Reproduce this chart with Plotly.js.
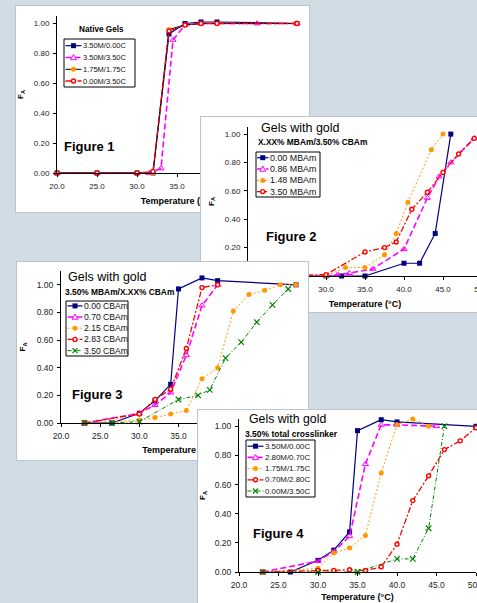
<!DOCTYPE html>
<html><head><meta charset="utf-8">
<script src="https://cdn.plot.ly/plotly-3.0.1.min.js"></script>
<style>
html,body{margin:0;padding:0;width:477px;height:603px;overflow:hidden;background:#d2dce4;}
.panel{position:absolute;background:#fff;box-shadow:0 0 0 1px #bcc4cb;}
</style></head><body>
<div id="p1" class="panel" style="left:16px;top:6px;width:293px;height:206px;z-index:1"></div>
<div id="p2" class="panel" style="left:201px;top:117px;width:300px;height:195px;z-index:2"></div>
<div id="p3" class="panel" style="left:17px;top:262px;width:291px;height:198px;z-index:3"></div>
<div id="p4" class="panel" style="left:198px;top:410px;width:300px;height:210px;z-index:4"></div>
<script>
// ---------- DATA ----------
const xTicks = [20, 25, 30, 35, 40, 45, 50];
const yTicks = [0, 0.2, 0.4, 0.6, 0.8, 1.0];

// Figure 1 — Native Gels
const f1Names = ['3.50M/0.00C', '3.50M/3.50C', '1.75M/1.75C', '0.00M/3.50C'];
const f1T_a = [20, 25, 30, 32, 34, 36, 38, 40, 50];
const f1FA_a = [0, 0, 0, 0, 0.93, 1.00, 1.01, 1.01, 1.00];
const f1T_b = [20, 25, 30, 31.5, 33, 34.5, 36, 38, 45, 50];
const f1FA_b = [0, 0, 0, 0, 0.03, 0.89, 0.99, 1.00, 1.00, 1.00];
const f1T_c = [20, 25, 30, 32, 34, 36, 38, 40, 50];
const f1FA_c = [0, 0, 0, 0, 0.96, 0.99, 1.00, 1.00, 1.00];
const f1T_d = [20, 25, 30, 32, 34, 36, 38, 40, 50];
const f1FA_d = [0, 0, 0, 0.01, 0.95, 0.99, 1.00, 1.00, 1.00];

// Figure 2 — X.XX% MBAm / 3.50% CBAm
const f2Names = ['0.00 MBAm', '0.86 MBAm', '1.48 MBAm', '3.50 MBAm'];
const f2T_a = [23, 26.5, 30, 32, 35, 40, 42, 44, 46];
const f2FA_a = [0, 0, 0, 0, 0, 0.09, 0.09, 0.30, 1.00];
const f2T_b = [23, 30, 31.5, 33, 36, 40, 43, 44.5, 46, 49];
const f2FA_b = [0, 0, 0.01, 0.02, 0.05, 0.19, 0.55, 0.70, 0.80, 0.97];
const f2T_c = [23, 30, 32.5, 35, 37.5, 39, 40.5, 43.5, 45];
const f2FA_c = [0, 0, 0.06, 0.06, 0.15, 0.30, 0.52, 0.89, 1.00];
const f2T_d = [23, 30, 35, 37.5, 39, 41, 43, 45, 47, 49];
const f2FA_d = [0, 0.01, 0.17, 0.20, 0.24, 0.47, 0.59, 0.73, 0.86, 0.97];

// Figure 3 — 3.50% MBAm / X.XX% CBAm
const f3Names = ['0.00 CBAm', '0.70 CBAm', '2.15 CBAm', '2.83 CBAm', '3.50 CBAm'];
const f3T_a = [23, 26.5, 30, 32, 34, 35, 38, 40, 50];
const f3FA_a = [0, 0, 0.07, 0.16, 0.28, 0.97, 1.05, 1.03, 1.00];
const f3T_b = [23, 30, 32, 34, 36, 38, 40];
const f3FA_b = [0, 0.07, 0.13, 0.22, 0.49, 0.85, 1.00];
const f3T_c = [23, 30, 32, 34, 36, 38, 40, 42, 44, 46, 48, 50];
const f3FA_c = [0, 0.02, 0.04, 0.065, 0.09, 0.32, 0.40, 0.81, 0.93, 0.96, 1.00, 1.00];
const f3T_d = [23, 30, 32, 34, 36, 38, 40];
const f3FA_d = [0, 0.065, 0.17, 0.245, 0.54, 0.98, 1.00];
const f3T_e = [23, 26.5, 30, 35, 37.5, 39, 41, 43, 45, 47, 49];
const f3FA_e = [0, 0, 0.01, 0.17, 0.20, 0.24, 0.47, 0.585, 0.73, 0.855, 0.97];

// Figure 4 — 3.50% total crosslinker
const f4Names = ['3.50M/0.00C', '2.80M/0.70C', '1.75M/1.75C', '0.70M/2.80C', '0.00M/3.50C'];
const f4T_a = [26.5, 30, 32, 34, 35, 38, 40, 50];
const f4FA_a = [0, 0.08, 0.15, 0.275, 0.97, 1.045, 1.03, 1.00];
const f4T_b = [23, 30, 32, 34, 36, 38, 40, 45];
const f4FA_b = [0, 0.075, 0.14, 0.245, 0.74, 1.01, 1.01, 1.00];
const f4T_c = [23, 30, 32, 34, 36, 38, 40, 42, 44];
const f4FA_c = [0, 0.025, 0.13, 0.165, 0.25, 0.68, 1.01, 1.05, 1.00];
const f4T_d = [23, 30, 32, 34, 36, 38, 40, 42, 44, 46, 48, 50];
const f4FA_d = [0, 0.01, 0.01, 0.015, 0.01, 0.035, 0.19, 0.49, 0.66, 0.84, 0.90, 0.99];
const f4T_e = [23, 30, 35, 40, 42, 44, 46];
const f4FA_e = [0, 0, 0, 0.09, 0.09, 0.30, 1.00];

// ---------- STYLES ----------
const FONT = '"Liberation Sans", Arial, Helvetica, sans-serif';
const STY = {
  navy:    {line: {color: '#000080', width: 1.2, dash: 'solid'},
            marker: {symbol: 'square', size: 5, color: '#000080'}},
  magenta: {line: {color: '#ff00ff', width: 1.6, dash: '6px,3px'},
            marker: {symbol: 'triangle-up-open', size: 5.5, color: '#ff00ff', line: {width: 1, color: '#ff00ff'}}},
  orange:  {line: {color: '#ff9900', width: 1, dash: '2px,2px'},
            marker: {symbol: 'circle', size: 5, color: '#ff9900'}},
  orangeK: {line: {color: '#000000', width: 1, dash: 'solid'},
            marker: {symbol: 'circle', size: 5, color: '#ff9900'}},
  red:     {line: {color: '#ff0000', width: 1.3, dash: '6px,2px,2px,2px'},
            marker: {symbol: 'circle', size: 4, color: '#ffffff', line: {color: '#ff0000', width: 1.4}}},
  green:   {line: {color: '#008000', width: 1, dash: '4px,2px,1px,2px'},
            marker: {symbol: 'x-thin-open', size: 5.5, color: '#008000', line: {color: '#008000', width: 1.2}}}
};

function keyShapes(st, cy, lx0, lx1, X, Y) {
  const s = STY[st];
  const cx = (lx0 + lx1) / 2;
  const out = [{type: 'line', xref: 'paper', yref: 'paper', x0: X(lx0), x1: X(lx1), y0: Y(cy), y1: Y(cy),
                line: {color: s.line.color, width: s.line.width, dash: s.line.dash}}];
  const b = {xref: 'paper', yref: 'paper', xsizemode: 'pixel', ysizemode: 'pixel', xanchor: X(cx), yanchor: Y(cy)};
  const m = s.marker;
  if (m.symbol === 'square') out.push(Object.assign({}, b, {type: 'rect', x0: -2.5, x1: 2.5, y0: -2.5, y1: 2.5, fillcolor: m.color, line: {width: 0}}));
  else if (m.symbol === 'triangle-up-open') out.push(Object.assign({}, b, {type: 'path', path: 'M-3,-2.2L3,-2.2L0,3Z', fillcolor: '#fff', line: {color: m.color, width: 1}}));
  else if (m.symbol === 'circle' && st !== 'red') out.push(Object.assign({}, b, {type: 'circle', x0: -2.5, x1: 2.5, y0: -2.5, y1: 2.5, fillcolor: m.color, line: {width: 0}}));
  else if (st === 'red') out.push(Object.assign({}, b, {type: 'circle', x0: -2, x1: 2, y0: -2, y1: 2, fillcolor: '#fff', line: {color: '#ff0000', width: 1.4}}));
  else out.push(Object.assign({}, b, {type: 'path', path: 'M-2.5,-2.5L2.5,2.5M-2.5,2.5L2.5,-2.5', line: {color: m.line.color, width: 1.2}}));
  return out;
}

function buildPanel(id, g, series, o) {
  const pw = g.w - g.l - g.r, ph = g.h - g.t - g.b;
  const X = x => (x - g.left - g.l) / pw;
  const Y = y => 1 - (y - g.top - g.t) / ph;
  const data = series.map(s => ({
    type: 'scatter', mode: 'lines+markers', x: s.x, y: s.y, name: s.name,
    line: STY[s.st].line, marker: STY[s.st].marker, cliponaxis: false,
    showlegend: false, hoverinfo: 'skip'
  }));
  const lg = o.legend;
  const shapes = [{type: 'rect', xref: 'paper', yref: 'paper', x0: X(lg.box[0]), x1: X(lg.box[2]),
                   y0: Y(lg.box[1]), y1: Y(lg.box[3]), fillcolor: '#fff', line: {color: '#000', width: 1}}];
  const ann = [];
  series.forEach((s, i) => {
    shapes.push(...keyShapes(s.st, lg.rows[i], lg.lx0, lg.lx1, X, Y));
    ann.push({xref: 'paper', yref: 'paper', x: X(lg.tx), y: Y(lg.rows[i]), xanchor: 'left', yanchor: 'middle',
              text: s.name, showarrow: false, borderpad: 0, font: {size: lg.fs, color: '#111'}});
  });
  o.texts.forEach(t => ann.push({xref: 'paper', yref: 'paper', x: X(t.x), y: Y(t.y), xanchor: t.anchor || 'left',
    yanchor: 'middle', text: t.text, showarrow: false, borderpad: 0, font: {size: t.fs, color: '#000'}}));
  const layout = {
    width: g.w, height: g.h,
    margin: {l: g.l, r: g.r, t: g.t, b: g.b, pad: 0},
    paper_bgcolor: '#ffffff', plot_bgcolor: '#ffffff',
    font: {family: FONT, size: 8, color: '#222'},
    showlegend: false,
    xaxis: {range: [20, 50], tickvals: xTicks, tickformat: '.1f', showline: true, linecolor: '#000', linewidth: 1,
            ticks: 'outside', ticklen: 3, tickcolor: '#000', showgrid: false, zeroline: false,
            tickfont: {size: o.tfs, color: '#222'}, ticklabelstandoff: 2, fixedrange: true,
            title: {text: '<b>Temperature (°C)</b>', font: {size: 9, color: '#000'}, standoff: o.xstand}},
    yaxis: {range: [0, o.ymax], tickvals: yTicks, tickformat: '.2f', showline: true, linecolor: '#000', linewidth: 1,
            ticks: 'outside', ticklen: 3, tickcolor: '#000', showgrid: false, zeroline: false,
            tickfont: {size: o.tfs, color: '#222'}, ticklabelstandoff: 2, fixedrange: true,
            title: {text: '<b>F<sub>A</sub></b>', font: {size: 8, color: '#000'}, standoff: o.ystand}},
    shapes: shapes, annotations: ann
  };
  Plotly.newPlot(id, data, layout, {staticPlot: true, displayModeBar: false});
}

// Panel 1
buildPanel('p1', {left: 16, top: 6, w: 293, h: 206, l: 41, r: 12, t: 10, b: 39}, [
  {x: f1T_a, y: f1FA_a, name: f1Names[0], st: 'navy'},
  {x: f1T_b, y: f1FA_b, name: f1Names[1], st: 'magenta'},
  {x: f1T_c, y: f1FA_c, name: f1Names[2], st: 'orangeK'},
  {x: f1T_d, y: f1FA_d, name: f1Names[3], st: 'red'}
], {ymax: 1.05, tfs: 8, xstand: 8, ystand: 9,
    legend: {box: [64, 39, 135, 87], rows: [45.7, 57.5, 69.3, 81], lx0: 65.5, lx1: 81.5, tx: 82.3, fs: 7.5},
    texts: [{x: 101, y: 30, text: '<b>Native Gels</b>', fs: 8.2, anchor: 'center'},
            {x: 63, y: 146, text: '<b>Figure 1</b>', fs: 13}]});

// Panel 2
buildPanel('p2', {left: 201, top: 117, w: 300, h: 195, l: 47, r: 19, t: 10, b: 36}, [
  {x: f2T_a, y: f2FA_a, name: f2Names[0], st: 'navy'},
  {x: f2T_b, y: f2FA_b, name: f2Names[1], st: 'magenta'},
  {x: f2T_c, y: f2FA_c, name: f2Names[2], st: 'orange'},
  {x: f2T_d, y: f2FA_d, name: f2Names[3], st: 'red'}
], {ymax: 1.05, tfs: 8, xstand: 8, ystand: 9,
    legend: {box: [256, 152, 320, 197], rows: [157.7, 169, 180.4, 191.6], lx0: 257, lx1: 268.5, tx: 268.8, fs: 8.9},
    texts: [{x: 260, y: 128, text: 'Gels with gold', fs: 12.5},
            {x: 257, y: 142, text: '<b>X.XX% MBAm/3.50% CBAm</b>', fs: 8.4},
            {x: 265, y: 236, text: '<b>Figure 2</b>', fs: 13}]});

// Panel 3
buildPanel('p3', {left: 17, top: 262, w: 291, h: 198, l: 44, r: 12, t: 9, b: 37}, [
  {x: f3T_a, y: f3FA_a, name: f3Names[0], st: 'navy'},
  {x: f3T_b, y: f3FA_b, name: f3Names[1], st: 'magenta'},
  {x: f3T_c, y: f3FA_c, name: f3Names[2], st: 'orange'},
  {x: f3T_d, y: f3FA_d, name: f3Names[3], st: 'red'},
  {x: f3T_e, y: f3FA_e, name: f3Names[4], st: 'green'}
], {ymax: 1.1, tfs: 8.5, xstand: 6, ystand: 9,
    legend: {box: [66, 301, 128, 356], rows: [305.9, 317, 328.2, 339.4, 350.6], lx0: 67.5, lx1: 82.5, tx: 83.2, fs: 8.6},
    texts: [{x: 67, y: 277, text: 'Gels with gold', fs: 12.5},
            {x: 64, y: 292, text: '<b>3.50% MBAm/X.XX% CBAm</b>', fs: 8.4},
            {x: 71, y: 394, text: '<b>Figure 3</b>', fs: 13}]});

// Panel 4
buildPanel('p4', {left: 198, top: 410, w: 300, h: 210, l: 41, r: 22, t: 9, b: 48}, [
  {x: f4T_a, y: f4FA_a, name: f4Names[0], st: 'navy'},
  {x: f4T_b, y: f4FA_b, name: f4Names[1], st: 'magenta'},
  {x: f4T_c, y: f4FA_c, name: f4Names[2], st: 'orange'},
  {x: f4T_d, y: f4FA_d, name: f4Names[3], st: 'red'},
  {x: f4T_e, y: f4FA_e, name: f4Names[4], st: 'green'}
], {ymax: 1.05, tfs: 8.5, xstand: 4, ystand: 8,
    legend: {box: [246, 440, 315, 497], rows: [446.2, 457.4, 468.6, 479.8, 491], lx0: 247.5, lx1: 263.5, tx: 264, fs: 7.9},
    texts: [{x: 248, y: 419.5, text: 'Gels with gold', fs: 12.3},
            {x: 244, y: 433.5, text: '<b>3.50% total crosslinker</b>', fs: 8.5},
            {x: 252, y: 533, text: '<b>Figure 4</b>', fs: 13}]});
</script>
</body></html>
